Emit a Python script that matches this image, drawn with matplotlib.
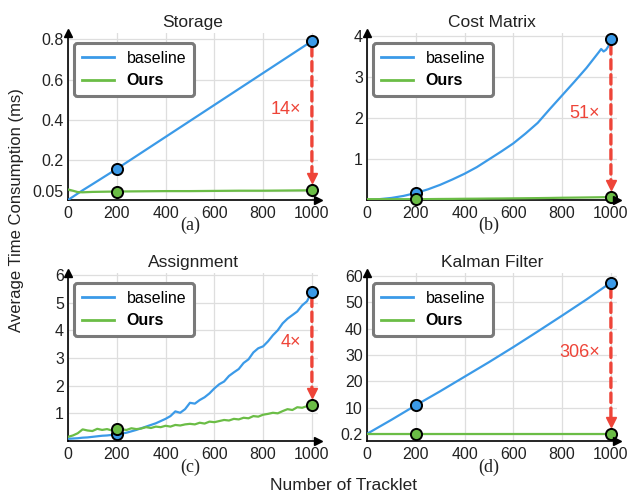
import matplotlib
matplotlib.use("Agg")
import matplotlib.pyplot as plt
from matplotlib.transforms import offset_copy

plt.rcParams['font.family'] = ['Liberation Sans', 'DejaVu Sans']

# ---------------- data ----------------
# (a) Storage
x_storage = [0, 20, 40, 60, 100, 200, 300, 400, 500, 600, 700, 800, 900, 1000]
base_storage = [0.004, 0.02, 0.036, 0.052, 0.082, 0.158, 0.237, 0.316, 0.395, 0.474, 0.553, 0.632, 0.711, 0.79]
ours_storage = [0.056, 0.05, 0.043, 0.042, 0.044, 0.046, 0.047, 0.048, 0.048, 0.049, 0.05, 0.05, 0.051, 0.052]

# (b) Cost Matrix
x_cost = [0, 50, 100, 150, 200, 250, 300, 350, 400, 450, 500, 550, 600, 650, 700,
          750, 800, 850, 900, 950, 960, 970, 980, 990, 1000]
base_cost = [0.0, 0.02, 0.05, 0.1, 0.17, 0.26, 0.37, 0.5, 0.64, 0.8, 0.99, 1.18, 1.38, 1.62,
             1.88, 2.22, 2.55, 2.88, 3.22, 3.6, 3.68, 3.62, 3.66, 3.75, 3.92]
ours_cost = [0.02, 0.02, 0.02, 0.02, 0.02, 0.022, 0.025, 0.027, 0.03, 0.032, 0.035, 0.037, 0.04,
             0.043, 0.046, 0.05, 0.055, 0.058, 0.062, 0.066, 0.067, 0.068, 0.068, 0.069, 0.07]

# (c) Assignment
x_assign = list(range(0, 1001, 20))
base_assign = [0.08, 0.09, 0.1, 0.12, 0.13, 0.15, 0.17, 0.19, 0.2, 0.22, 0.24, 0.27, 0.3, 0.35,
               0.4, 0.46, 0.52, 0.58, 0.64, 0.72, 0.8, 0.9, 1.07, 1.02, 1.15, 1.38, 1.35, 1.48,
               1.58, 1.72, 1.9, 2.05, 2.15, 2.35, 2.48, 2.6, 2.82, 2.95, 3.2, 3.35, 3.42, 3.6,
               3.82, 4.0, 4.25, 4.42, 4.55, 4.68, 4.9, 5.05, 5.4]
ours_assign = [0.15, 0.2, 0.28, 0.42, 0.38, 0.36, 0.44, 0.4, 0.43, 0.38, 0.43, 0.42, 0.4, 0.46,
               0.43, 0.45, 0.5, 0.47, 0.52, 0.5, 0.55, 0.52, 0.58, 0.56, 0.6, 0.62, 0.6, 0.66,
               0.63, 0.7, 0.68, 0.72, 0.76, 0.74, 0.8, 0.78, 0.84, 0.82, 0.9, 0.88, 0.95, 0.98,
               1.02, 1.0, 1.08, 1.15, 1.12, 1.22, 1.2, 1.26, 1.3]

# (d) Kalman Filter
x_kalman = [0, 100, 200, 300, 400, 500, 600, 700, 800, 900, 1000]
base_kalman = [0.2, 5.5, 11.0, 16.3, 21.8, 27.3, 33.0, 38.9, 44.9, 51.0, 57.4]
ours_kalman = [0.2, 0.2, 0.2, 0.2, 0.2, 0.2, 0.2, 0.2, 0.2, 0.2, 0.2]

titles = ["Storage", "Cost Matrix", "Assignment", "Kalman Filter"]
panel_labels = ["(a)", "(b)", "(c)", "(d)"]
speedups = ["14\u00d7", "51\u00d7", "4\u00d7", "306\u00d7"]
yticks_list = [[0.05, 0.2, 0.4, 0.6, 0.8], [1, 2, 3, 4], [1, 2, 3, 4, 5, 6],
               [0.2, 10, 20, 30, 40, 50, 60]]
ytick_labels = [["0.05", "0.2", "0.4", "0.6", "0.8"], ["1", "2", "3", "4"],
                ["1", "2", "3", "4", "5", "6"], ["0.2", "10", "20", "30", "40", "50", "60"]]
ylims = [(0.004, 0.83), (0.0, 4.07), (0.0, 6.07), (-2.5, 61.0)]
xticks = [0, 200, 400, 600, 800, 1000]
marker_x = [200, 1000]
speed_text_y = [0.45, 2.12, 3.57, 31.0]

series = [(x_storage, base_storage, ours_storage), (x_cost, base_cost, ours_cost),
          (x_assign, base_assign, ours_assign), (x_kalman, base_kalman, ours_kalman)]

BLUE = "#3b9ae8"
GREEN = "#6bbd46"
RED = "#ee4438"

W, H = 629, 497
fig = plt.figure(figsize=(W / 100, H / 100), dpi=100)

lefts = [68, 367, 68, 367]
bottoms = [200, 200, 441, 441]
tops = [33, 33, 273, 273]
axw = 250
label_pos = [(190, 225), (489, 225), (190, 467), (489, 467)]

for i in range(4):
    l, b, t = lefts[i], bottoms[i], tops[i]
    ax = fig.add_axes([l / W, 1 - b / H, axw / W, (b - t) / H])
    xs, base, ours = series[i]
    ax.plot(xs, base, color=BLUE, lw=1.6, label="baseline", zorder=3)
    ax.plot(xs, ours, color=GREEN, lw=1.6, label="Ours", zorder=3)
    # markers at 200 and 1000
    for mx in marker_x:
        k = xs.index(mx)
        ax.plot(mx, base[k], 'o', ms=8, mfc=BLUE, mec='black', mew=1.4, zorder=6, clip_on=False)
        ax.plot(mx, ours[k], 'o', ms=8, mfc=GREEN, mec='black', mew=1.4, zorder=6, clip_on=False)

    # red dashed arrow
    kb = xs.index(1000)
    yb, yo = base[kb], ours[kb]
    ax.annotate("", xy=(1000, yo), xytext=(1000, yb),
                arrowprops=dict(arrowstyle='-', color=RED, lw=2.4,
                                linestyle=(0, (2.8, 1.7)), shrinkA=4, shrinkB=12),
                zorder=5, annotation_clip=False)
    tri_trans = offset_copy(ax.transData, fig=fig, x=0, y=12, units='dots')
    ax.plot(1000, yo, 'v', ms=7.5, color=RED, mec=RED, transform=tri_trans, zorder=5, clip_on=False)
    ax.text(955, speed_text_y[i], speedups[i], color=RED, fontsize=13, ha='right', va='center')

    ax.set_xlim(0, 1025)
    ax.set_ylim(*ylims[i])
    ax.set_xticks(xticks)
    ax.set_xticklabels([str(v) for v in xticks])
    ax.set_yticks(yticks_list[i])
    ax.set_yticklabels(ytick_labels[i])
    ax.tick_params(axis='both', length=0, labelsize=11.5, colors='#222222')
    ax.tick_params(axis='x', pad=4)
    ax.tick_params(axis='y', pad=3)
    ax.grid(True, color='#dedede', lw=0.9, zorder=0)
    ax.set_axisbelow(True)
    for s in ['top', 'right']:
        ax.spines[s].set_visible(False)
    for s in ['left', 'bottom']:
        ax.spines[s].set_color('black')
        ax.spines[s].set_linewidth(1.2)
    ax.plot(1, 0, '>', color='black', ms=6, transform=ax.transAxes, clip_on=False, zorder=7)
    ax.plot(0, 1, '^', color='black', ms=6, transform=ax.transAxes, clip_on=False, zorder=7)

    ax.set_title(titles[i], fontsize=12.5, pad=4, color='#222222')

    leg = ax.legend(loc='upper left', bbox_to_anchor=(6 / axw, 1 - 10 / (b - t)),
                    borderaxespad=0, fontsize=11.5, fancybox=True, framealpha=1,
                    edgecolor='#7a7a7a', handlelength=2.0, handletextpad=0.8,
                    borderpad=0.5, labelspacing=0.45)
    leg.get_frame().set_linewidth(2.2)
    for line in leg.get_lines():
        line.set_linewidth(2.0)
    leg.get_texts()[1].set_fontweight('bold')
    leg.set_zorder(8)

    lx, ly = label_pos[i]
    fig.text(lx / W, 1 - ly / H, panel_labels[i], ha='center', va='center',
             fontsize=13, family='Liberation Serif', color='#222222')

fig.text(17 / W, 1 - 210 / H, "Average Time Consumption (ms)", rotation=90,
         ha='center', va='center', fontsize=12, color='#222222')
fig.text(343 / W, 1 - 485 / H, "Number of Tracklet", ha='center', va='center',
         fontsize=12.5, color='#222222')

fig.savefig("out.png", dpi=100, facecolor='white')
